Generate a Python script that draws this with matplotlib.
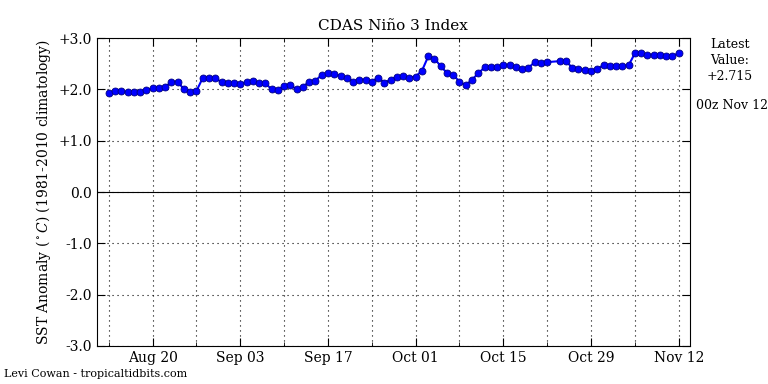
import numpy as np
import pandas as pd
import matplotlib
matplotlib.use('Agg')
import matplotlib.pyplot as plt

# Daily CDAS Nino 3 index, Aug 13 - Nov 12 (Oct 23 missing)
start_date = '2015-08-13'
end_date = '2015-11-12'
anomaly = [
    1.92, 1.97, 1.97, 1.94, 1.94, 1.94, 1.99, 2.02, 2.02, 2.05,
    2.14, 2.15, 2.00, 1.94, 1.97, 2.22, 2.23, 2.22, 2.14, 2.12,
    2.12, 2.10, 2.15, 2.16, 2.12, 2.12, 2.00, 1.99, 2.07, 2.08,
    2.00, 2.05, 2.15, 2.17, 2.28, 2.31, 2.30, 2.26, 2.23, 2.15,
    2.19, 2.18, 2.15, 2.23, 2.13, 2.19, 2.25, 2.26, 2.23, 2.25,
    2.36, 2.64, 2.60, 2.45, 2.32, 2.28, 2.15, 2.08, 2.19, 2.31,
    2.43, 2.43, 2.44, 2.47, 2.47, 2.44, 2.39, 2.42, 2.53, 2.52,
    2.53, np.nan, 2.55, 2.55, 2.42, 2.39, 2.38, 2.35, 2.40, 2.47,
    2.46, 2.46, 2.46, 2.47, 2.70, 2.70, 2.67, 2.67, 2.67, 2.64,
    2.64, 2.715,
]
yticks = [-3, -2, -1, 0, 1, 2, 3]
ytick_labels = ['-3.0', '-2.0', '-1.0', '0.0', '+1.0', '+2.0', '+3.0']

plt.rcParams['font.family'] = 'DejaVu Serif'
plt.rcParams['mathtext.fontset'] = 'dejavuserif'

dates = pd.date_range(start_date, end_date, freq='D')
vals = np.array(anomaly, dtype=float)
ok = ~np.isnan(vals)

fig = plt.figure(figsize=(7.68, 3.84), dpi=100)
ax = fig.add_axes([0.126, 0.099, 0.772, 0.802])

ax.plot(dates[ok], vals[ok], '-o', color='blue', lw=1.5,
        markersize=5, markerfacecolor='blue', markeredgecolor='#000080',
        markeredgewidth=0.6, zorder=3)
ax.axhline(0, color='black', lw=0.8, zorder=2)

ax.set_ylim(-3, 3)
ax.set_yticks(yticks)
ax.set_yticklabels(ytick_labels)
ax.set_xlim(dates[0] - pd.Timedelta(hours=46), dates[-1] + pd.Timedelta(hours=42))

# labelled ticks every two weeks, grid every week
major = pd.date_range('2015-08-20', end_date, freq='14D')
ax.set_xticks(major)
ax.set_xticklabels([d.strftime('%b %d') for d in major])
ax.set_xticks(pd.date_range(start_date, end_date, freq='14D'), minor=True)

dots = (0, (1, 3.5))
ax.grid(True, which='both', axis='x', color='black', linestyle=dots, lw=0.8)
ax.grid(True, which='major', axis='y', color='black', linestyle=dots, lw=0.8)
ax.tick_params(which='both', direction='in', top=True, right=True, labelsize=10)
ax.tick_params(which='major', length=6)
ax.tick_params(which='minor', length=3)

ax.set_title('CDAS Niño 3 Index', fontsize=11)
ax.set_ylabel(r'SST Anomaly $(^\circ C)$ (1981-2010 climatology)', fontsize=10)

fig.text(0.950, 0.9, 'Latest\nValue:\n+2.715', ha='center', va='top', fontsize=9,
         linespacing=1.3)
fig.text(0.953, 0.725, '00z Nov 12', ha='center', va='center', fontsize=9)
fig.text(0.005, 0.025, 'Levi Cowan - tropicaltidbits.com', ha='left', va='center', fontsize=8)

fig.savefig('out.png', dpi=100)
